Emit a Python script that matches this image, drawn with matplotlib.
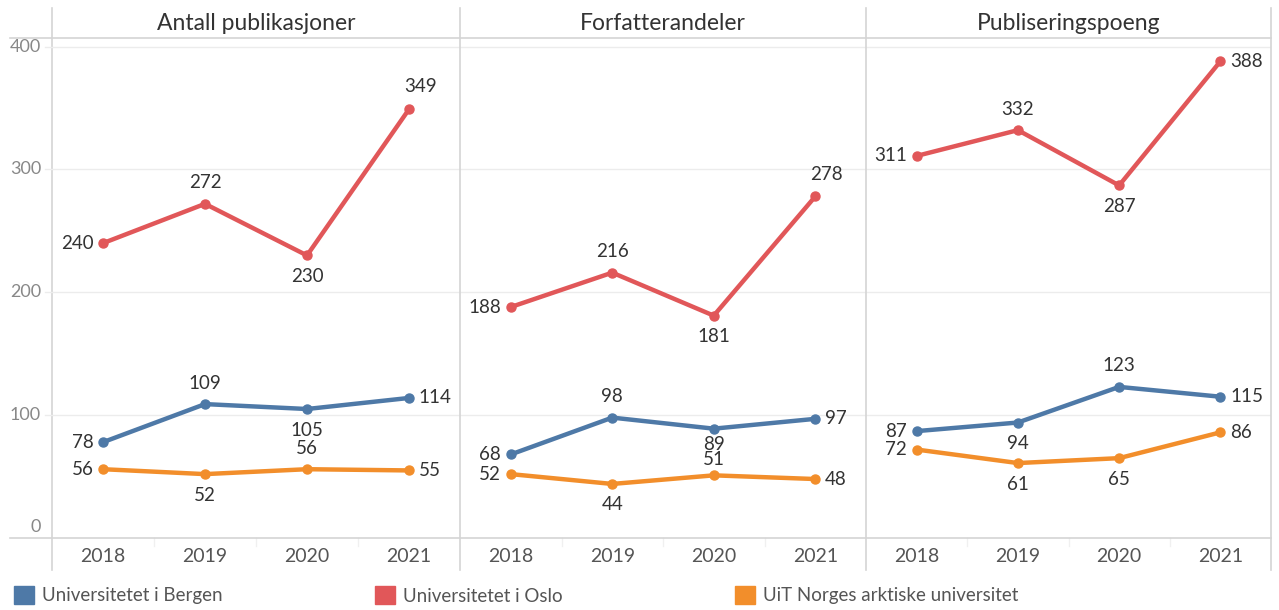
import matplotlib.pyplot as plt
from matplotlib.lines import Line2D
from matplotlib.patches import Rectangle

# -----------------------------
# data
# -----------------------------
years = ["2018", "2019", "2020", "2021"]
panels = ["Antall publikasjoner", "Forfatterandeler", "Publiseringspoeng"]
unis = ["Universitetet i Bergen", "Universitetet i Oslo", "UiT Norges arktiske universitet"]

bergen = [[78, 109, 105, 114], [68, 98, 89, 97], [87, 94, 123, 115]]
oslo = [[240, 272, 230, 349], [188, 216, 181, 278], [311, 332, 287, 388]]
uit = [[56, 52, 56, 55], [52, 44, 51, 48], [72, 61, 65, 86]]

# label placement per point: l=left, a=above, b=below, r=right, ar=above right
# (a2/b2 = tighter above/below, where two labels would otherwise collide)
pos_bergen = [["l", "a", "b", "r"], ["l", "a", "b2", "r"], ["l", "b", "a", "r"]]
pos_oslo = [["l", "a", "b", "ar"], ["l", "a", "b", "ar"], ["l", "a", "b", "r"]]
pos_uit = [["l", "b", "a", "r"], ["l", "b", "a2", "r"], ["l", "b", "b", "r"]]

colors = ["#4e79a7", "#e15759", "#f28e2b"]
yticks = [0, 100, 200, 300, 400]

plt.rcParams['font.family'] = ['Lato', 'DejaVu Sans']

W, H = 1279, 610
fig = plt.figure(figsize=(W / 100, H / 100), dpi=100)

def fx(px):
    return px / W

def fy(py):
    return 1 - py / H

top, bot = 38, 538
edges = [52, 460, 866, 1271]
grid_c = "#ececec"
line_c = "#d4d4d4"

offs = {"l": (-7, 0, "right", "center"), "r": (7, 0, "left", "center"),
        "a": (0, 9, "center", "bottom"), "b": (0, -9, "center", "top"),
        "a2": (0, 5, "center", "bottom"), "b2": (0, -5, "center", "top"),
        "ar": (8, 10, "center", "bottom")}

for p in range(3):
    x0, x1 = edges[p], edges[p + 1]
    ax = fig.add_axes([fx(x0), fy(bot), fx(x1 - x0), (bot - top) / H])
    ax.set_xlim(-0.5, 3.5)
    ax.set_ylim(0, 407)
    for s in ax.spines.values():
        s.set_visible(False)
    ax.set_xticks([])
    ax.set_yticks([])
    for t in yticks[1:]:
        ax.axhline(t, color=grid_c, lw=1, zorder=0)

    series = [(bergen[p], pos_bergen[p]), (oslo[p], pos_oslo[p]), (uit[p], pos_uit[p])]
    for (vals, poss), c in zip(series, colors):
        xs = range(len(years))
        ax.plot(xs, vals, color=c, lw=3.2, marker="o", ms=6.5, solid_capstyle="round", zorder=3)
        for i, (v, ps) in enumerate(zip(vals, poss)):
            dx, dy, ha, va = offs[ps]
            ax.annotate(str(v), (i, v), xytext=(dx, dy), textcoords="offset points",
                        ha=ha, va=va, fontsize=13.5, color="#333333", zorder=4)

    # title
    fig.text(fx((x0 + x1) / 2), fy(23), panels[p], ha="center", va="center",
             fontsize=16.5, color="#333333")
    # year labels
    for i, yr in enumerate(years):
        cx = x0 + (x1 - x0) * (i + 0.5) / 4
        fig.text(fx(cx), fy(556), yr, ha="center", va="center", fontsize=14, color="#555555")
        if i > 0:
            bx = x0 + (x1 - x0) * i / 4
            fig.add_artist(Line2D([fx(bx)] * 2, [fy(538), fy(546)], color="#f0f0f0", lw=1))

# separators
for x in edges:
    fig.add_artist(Line2D([fx(x)] * 2, [fy(8), fy(570)], color=line_c, lw=1.2))
fig.add_artist(Line2D([fx(10), fx(1271)], [fy(top), fy(top)], color=line_c, lw=1.2))
fig.add_artist(Line2D([fx(10), fx(1271)], [fy(bot), fy(bot)], color=line_c, lw=1.2))

# y axis labels
ypx = {t: bot - t * (bot - top) / 407 for t in yticks}
for t in yticks:
    y = ypx[t] if t > 0 else bot - 11
    fig.text(fx(41), fy(y), str(t), ha="right", va="center", fontsize=13, color="#888888")
    if t > 0:
        fig.add_artist(Line2D([fx(45), fx(52)], [fy(ypx[t])] * 2, color=grid_c, lw=1))

# legend
leg_x = [14, 375, 735]
for lx, name, c in zip(leg_x, unis, colors):
    fig.add_artist(Rectangle((fx(lx), fy(604)), fx(20), 18 / H, color=c,
                             transform=fig.transFigure))
    fig.text(fx(lx + 28), fy(596), name, ha="left", va="center", fontsize=13.5, color="#555555")

fig.savefig("out.png", dpi=100)
